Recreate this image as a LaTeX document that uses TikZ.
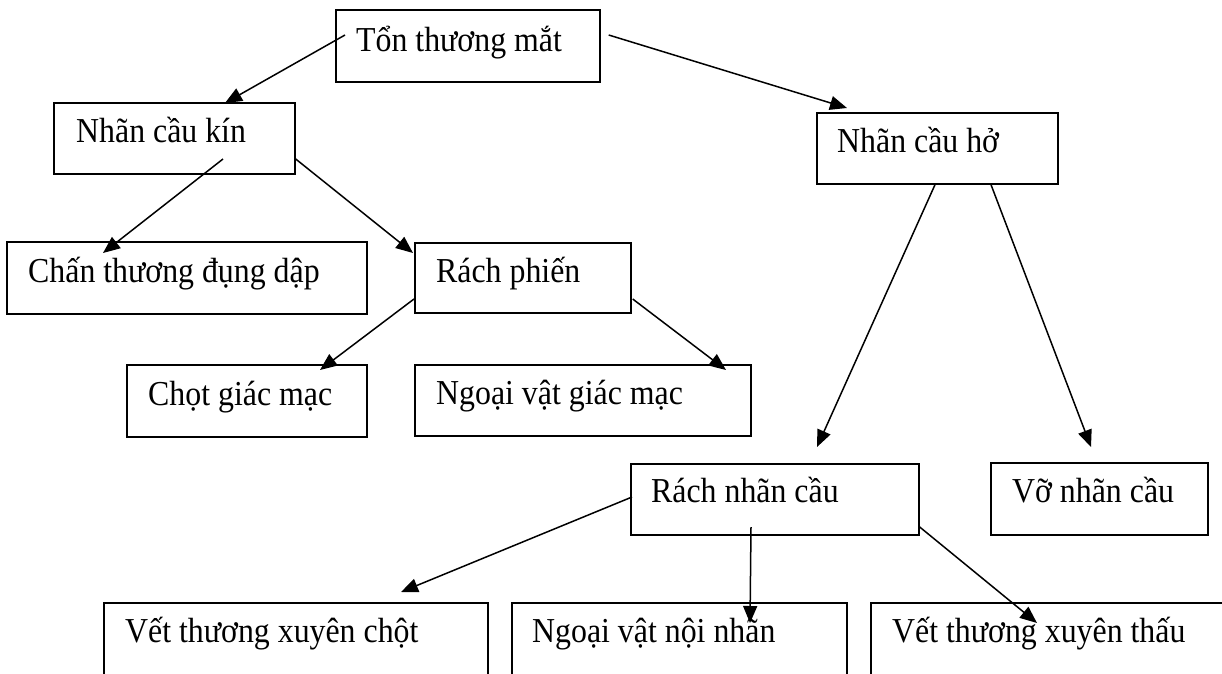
\documentclass[tikz,border=0pt]{standalone}
\usepackage{fontspec}
\setmainfont{Liberation Serif}[FakeStretch=0.91]
\usetikzlibrary{arrows.meta,calc}
\begin{document}
\begin{tikzpicture}[x=1pt,y=-1pt,
  boxnode/.style={draw,line width=1.7pt,anchor=north west,inner sep=0pt},
  lab/.style={anchor=base west,inner sep=0pt,font=\fontsize{35}{40}\selectfont},
  conn/.style={line width=1.5pt,-{Triangle[length=17pt,width=14pt]}}]
\useasboundingbox (0,0) rectangle (1222,673);
\clip (0,0) rectangle (1222,673);
% boxes
\node[boxnode,minimum width=264pt,minimum height=72pt] (tm) at (335,9) {};
\node[boxnode,minimum width=241pt,minimum height=71pt] (kin) at (53,102) {};
\node[boxnode,minimum width=241pt,minimum height=71pt] (ho) at (816,112) {};
\node[boxnode,minimum width=360pt,minimum height=72pt] (ctd) at (6,241) {};
\node[boxnode,minimum width=216pt,minimum height=70pt] (rp) at (414,242) {};
\node[boxnode,minimum width=240pt,minimum height=72pt] (chot) at (126,364) {};
\node[boxnode,minimum width=336pt,minimum height=71pt] (nvgm) at (414,364) {};
\node[boxnode,minimum width=288pt,minimum height=71pt] (rnc) at (630,463) {};
\node[boxnode,minimum width=217pt,minimum height=72pt] (vo) at (990,462) {};
\node[boxnode,minimum width=384pt,minimum height=100pt] (b1) at (103,602) {};
\node[boxnode,minimum width=335pt,minimum height=100pt] (b2) at (511,602) {};
\node[boxnode,minimum width=400pt,minimum height=100pt] (b3) at (870,602) {};
% labels
\node[lab] (ttm) at (356,51) {Tổn thương mắt};
\node[lab] (tkin) at (76,142) {Nhãn cầu kín};
\node[lab] (tho) at (837,152) {Nhãn cầu hở};
\node[lab] (tctd) at (28,282) {Chấn thương đụng dập};
\node[lab] (trp) at (436,282) {Rách phiến};
\node[lab] (tchot) at (148,405) {Chọt giác mạc};
\node[lab] (tnvgm) at (436,404) {Ngoại vật giác mạc};
\node[lab] (trnc) at (651,502) {Rách nhãn cầu};
\node[lab] (tvo) at (1012,502) {Vỡ nhãn cầu};
\node[lab] (tb1) at (125,642) {Vết thương xuyên chột};
\node[lab] (tb2) at (532,642) {Ngoại vật nội nhãn};
\node[lab] (tb3) at (892,642) {Vết thương xuyên thấu};
% connectors
\draw[conn] ($(tm.north west)+(10,26)$) -- ($(kin.north west)+(172,1)$);
\draw[conn] ($(tm.north east)+(8,26)$) -- ($(ho.north west)+(31,-4)$);
\draw[conn] ($(kin.north west)+(170,57)$) -- ($(ctd.north west)+(97,12)$);
\draw[conn] ($(kin.north east)+(0,57)$) -- ($(rp.north west)+(-1,11)$);
\draw[conn] ($(rp.north west)+(0,57)$) -- ($(chot.north west)+(194,6)$);
\draw[conn] ($(rp.north east)+(1,57)$) -- ($(nvgm.north west)+(312,6)$);
\draw[conn] ($(ho.south west)+(119,0)$) -- ($(rnc.north west)+(187,-16)$);
\draw[conn] ($(ho.south west)+(175,0)$) -- ($(vo.north west)+(101,-15)$);
\draw[conn] ($(rnc.north west)+(2,34)$) -- ($(b1.north west)+(298,-10)$);
\draw[conn] ($(rnc.north west)+(121,64)$) -- ($(b2.north west)+(239,21)$);
\draw[conn] ($(rnc.north east)+(0,64)$) -- ($(b3.north west)+(167,21)$);
\end{tikzpicture}
\end{document}
